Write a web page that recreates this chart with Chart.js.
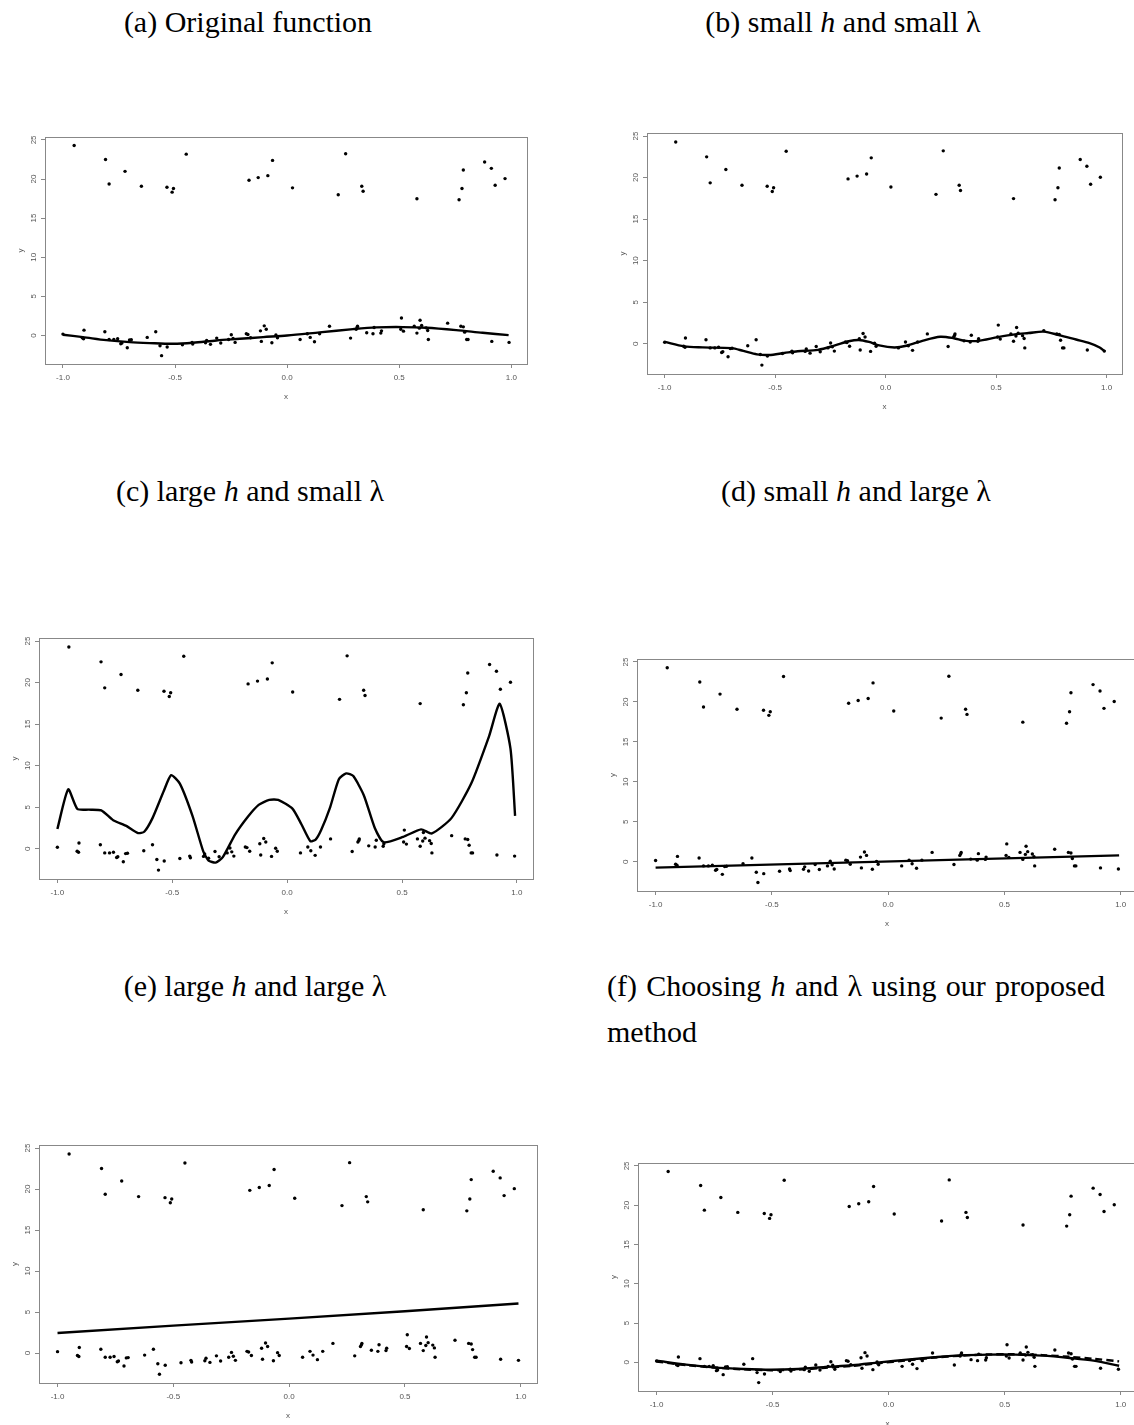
<!DOCTYPE html>
<html>
<head>
<meta charset="utf-8">
<script src="https://cdn.jsdelivr.net/npm/chart.js@4.4.0/dist/chart.umd.min.js"></script>
<style>
  html, body { margin: 0; padding: 0; background: #fff; }
  body { width: 1134px; height: 1425px; position: relative; overflow: hidden; }
  .cap { position: absolute; width: 400px; text-align: center; font-family: "Liberation Serif", "Times New Roman", serif; font-size: 30px; line-height: 36px; color: #000; white-space: nowrap; }
  .cap i { font-style: italic; }
  .cap.wrap { white-space: normal; width: 498px; line-height: 46px; text-align: justify; text-align-last: left; }
  canvas { position: absolute; }
</style>
</head>
<body>
<div class="cap" style="left:48px;top:4px">(a) Original function</div>
<div class="cap" style="left:643px;top:4px">(b) small <i>h</i> and small λ</div>
<div class="cap" style="left:50px;top:473px">(c) large <i>h</i> and small λ</div>
<div class="cap" style="left:656px;top:473px">(d) small <i>h</i> and large λ</div>
<div class="cap" style="left:55px;top:968px">(e) large <i>h</i> and large λ</div>
<div class="cap wrap" style="left:607px;top:963px">(f) Choosing <i>h</i> and λ using our proposed method</div>

<script>
// observed points (same sample in every panel)
const obsX = [
  -0.950, -0.810, -0.794, -0.723, -0.650, -0.536, -0.513, -0.507, -0.450, -0.170,
  -0.129, -0.086, -0.065, 0.024, 0.228, 0.261, 0.333, 0.339, 0.579, 0.767,
  0.780, 0.786, 0.881, 0.911, 0.928, 0.972,
  -1.000, -0.906, -0.914, -0.908, -0.813, -0.794, -0.773, -0.756, -0.742, -0.737,
  -0.713, -0.703, -0.695, -0.624, -0.586, -0.567, -0.560, -0.535, -0.467, -0.424,
  -0.421, -0.364, -0.359, -0.342, -0.314, -0.296, -0.261, -0.249, -0.241, -0.232,
  -0.182, -0.175, -0.163, -0.119, -0.115, -0.102, -0.093, -0.068, -0.050, -0.043,
  0.058, 0.090, 0.103, 0.122, 0.145, 0.189, 0.283, 0.308, 0.312, 0.314,
  0.355, 0.383, 0.388, 0.418, 0.421, 0.507, 0.510, 0.519, 0.567, 0.579,
  0.590, 0.593, 0.600, 0.620, 0.627, 0.630, 0.716, 0.775, 0.786, 0.792,
  0.801, 0.807, 0.913, 0.990
];
const obsY = [
  24.28, 22.50, 19.37, 20.98, 19.08, 18.95, 18.32, 18.78, 23.18, 19.84,
  20.18, 20.43, 22.38, 18.87, 17.98, 23.22, 19.08, 18.44, 17.47, 17.34,
  18.78, 21.15, 22.17, 21.36, 19.20, 20.05,
  0.17, 0.68, -0.30, -0.42, 0.47, -0.51, -0.51, -0.42, -1.06, -0.97,
  -1.57, -0.59, -0.55, -0.25, 0.47, -1.31, -2.58, -1.48, -1.18, -0.89,
  -1.10, -0.93, -0.63, -1.14, -0.34, -0.97, -0.51, 0.08, -0.38, -0.89,
  0.21, 0.13, -0.30, 0.59, -0.76, 1.23, 0.80, -0.93, 0.05, -0.30,
  -0.51, 0.21, -0.25, -0.80, 0.21, 1.18, -0.34, 0.80, 1.00, 1.18,
  0.34, 0.21, 1.02, 0.30, 0.59, 0.80, 2.24, 0.55, 1.18, 0.30,
  0.93, 1.95, 1.27, 0.97, 0.63, -0.51, 1.57, 1.18, 1.10, 0.42,
  -0.51, -0.51, -0.76, -0.89
];

// (a) original function
const truthX = [-1, -0.911, -0.807, -0.702, -0.613, -0.509, -0.42, -0.315, -0.211, -0.107, 0, 0.145, 0.294, 0.398, 0.516, 0.62, 0.754, 0.872, 0.988];
const truthY = [0.09, -0.21, -0.6, -0.86, -0.98, -1.07, -0.94, -0.64, -0.43, -0.21, 0, 0.4, 0.81, 1.03, 1.07, 0.98, 0.68, 0.34, 0.04];

// (b) small h, small lambda
const bX = [-1, -0.912, -0.828, -0.697, -0.644, -0.582, -0.528, -0.459, -0.398, -0.306, -0.229, -0.167, -0.121, -0.075, -0.029, 0.040, 0.094, 0.170, 0.247, 0.309, 0.355, 0.416, 0.508, 0.585, 0.647, 0.716, 0.785, 0.862, 0.923, 0.969, 0.992];
const bY = [0.21, -0.33, -0.45, -0.54, -0.87, -1.28, -1.36, -1.12, -0.91, -0.74, -0.21, 0.29, 0.45, 0.21, -0.21, -0.45, -0.25, 0.37, 0.83, 0.66, 0.37, 0.33, 0.79, 1.12, 1.28, 1.45, 1.03, 0.50, 0.08, -0.45, -0.95];

// (c) large h, small lambda
const cX = [-1, -0.953, -0.913, -0.863, -0.809, -0.757, -0.700, -0.649, -0.622, -0.586, -0.537, -0.505, -0.467, -0.412, -0.365, -0.342, -0.311, -0.280, -0.226, -0.171, -0.124, -0.078, -0.039, 0.023, 0.062, 0.101, 0.124, 0.148, 0.187, 0.225, 0.257, 0.288, 0.334, 0.381, 0.420, 0.505, 0.583, 0.630, 0.715, 0.801, 0.879, 0.925, 0.972, 0.992];
const cY = [2.37, 7.15, 4.78, 4.70, 4.62, 3.43, 2.74, 1.88, 2.04, 3.68, 6.94, 8.86, 7.84, 3.96, -0.33, -1.43, -1.67, -1.02, 1.72, 3.84, 5.27, 5.88, 5.88, 4.82, 2.94, 0.90, 1.10, 2.25, 4.98, 8.37, 9.07, 8.74, 6.41, 2.53, 0.78, 1.43, 2.33, 1.84, 3.68, 7.84, 13.56, 17.44, 12.05, 3.96];

// (d) small h, large lambda
const dX = [-1, 0.993];
const dY = [-0.72, 0.80];

// (e) large h, large lambda
const eX = [-1, -0.5, 0, 0.5, 0.99];
const eY = [2.45, 3.35, 4.2, 5.1, 6.05];

// (f) proposed choice (solid) and true function (dashed)
const fX = [-1, -0.873, -0.756, -0.624, -0.507, -0.390, -0.273, -0.156, -0.039, 0.078, 0.195, 0.312, 0.429, 0.546, 0.663, 0.780, 0.883, 0.993];
const fY = [0.21, -0.30, -0.64, -0.85, -0.94, -0.85, -0.60, -0.38, 0, 0.34, 0.64, 0.89, 0.98, 0.98, 0.85, 0.55, 0.21, -0.43];
const fDashY = [0.10, -0.35, -0.65, -0.90, -1.00, -0.92, -0.70, -0.45, -0.10, 0.25, 0.60, 0.85, 1.00, 1.03, 0.92, 0.70, 0.45, 0.12];

const xTicks = [-1, -0.5, 0, 0.5, 1];
const yTicks = [0, 5, 10, 15, 20, 25];

const X_MIN = -1.08, X_MAX = 1.07, Y_MIN = -3.65, Y_MAX = 25.37;
const AXIS_W = 45, AXIS_H = 45, PAD = 8;
const tickFont = { family: "'Liberation Sans', Arial, sans-serif", size: 8 };
const GREY = "#555";

const boxPlugin = {
  id: "box",
  afterDraw(chart) {
    const a = chart.chartArea;
    const ctx = chart.ctx;
    ctx.save();
    ctx.strokeStyle = "#888";
    ctx.lineWidth = 1;
    ctx.strokeRect(Math.round(a.left) + 0.5, Math.round(a.top) + 0.5, Math.round(a.right - a.left), Math.round(a.bottom - a.top));
    ctx.restore();
  }
};

function pts(xs, ys) {
  return xs.map((x, i) => ({ x, y: ys[i] }));
}

function makePanel(box, curves) {
  const c = document.createElement("canvas");
  c.width = box.R - box.L + AXIS_W + PAD;
  c.height = box.B - box.T + AXIS_H + PAD;
  c.style.left = (box.L - AXIS_W) + "px";
  c.style.top = (box.T - PAD) + "px";
  document.body.appendChild(c);

  const datasets = [{
    data: pts(obsX, obsY),
    showLine: false,
    pointRadius: 1.7,
    pointBackgroundColor: "#000",
    pointBorderWidth: 0
  }];
  curves.forEach(cv => datasets.push({
    data: pts(cv.x, cv.y),
    showLine: true,
    borderColor: "#000",
    borderWidth: 2.4,
    borderDash: cv.dash || [],
    pointRadius: 0,
    tension: cv.tension ?? 0.3
  }));

  new Chart(c.getContext("2d"), {
    type: "scatter",
    data: { datasets },
    options: {
      responsive: false,
      animation: false,
      events: [],
      layout: { padding: { left: 0, top: PAD, right: PAD, bottom: 0 } },
      plugins: { legend: { display: false }, tooltip: { enabled: false } },
      scales: {
        x: {
          type: "linear", min: X_MIN, max: X_MAX,
          afterBuildTicks: s => { s.ticks = xTicks.map(v => ({ value: v })); },
          afterFit: s => { s.height = AXIS_H; s.paddingLeft = 0; s.paddingRight = 0; },
          ticks: { callback: v => v.toFixed(1), font: tickFont, color: GREY, padding: 5, maxRotation: 0, minRotation: 0, autoSkip: false },
          grid: { drawOnChartArea: false, drawTicks: true, tickLength: 4, color: "#888" },
          border: { display: false },
          title: { display: true, text: "x", font: tickFont, color: GREY, padding: { top: 0, bottom: 7 } }
        },
        y: {
          type: "linear", min: Y_MIN, max: Y_MAX,
          afterBuildTicks: s => { s.ticks = yTicks.map(v => ({ value: v })); },
          afterFit: s => { s.width = AXIS_W; s.paddingTop = 0; s.paddingBottom = 0; },
          ticks: { callback: v => String(v), font: tickFont, color: GREY, padding: 3, minRotation: 90, maxRotation: 90, crossAlign: "center", autoSkip: false },
          grid: { drawOnChartArea: false, drawTicks: true, tickLength: 4, color: "#888" },
          border: { display: false },
          title: { display: true, text: "y", font: tickFont, color: GREY, padding: { top: 16, bottom: 0 } }
        }
      }
    },
    plugins: [boxPlugin]
  });
}

makePanel({ L: 45, T: 137, R: 527, B: 364 }, [{ x: truthX, y: truthY }]);
makePanel({ L: 647, T: 133, R: 1122, B: 374 }, [{ x: bX, y: bY }]);
makePanel({ L: 39, T: 638, R: 533, B: 879 }, [{ x: cX, y: cY, tension: 0.2 }]);
makePanel({ L: 637, T: 659, R: 1137, B: 891 }, [{ x: dX, y: dY, tension: 0 }]);
makePanel({ L: 39, T: 1145, R: 537, B: 1383 }, [{ x: eX, y: eY, tension: 0 }]);
makePanel({ L: 638, T: 1163, R: 1137, B: 1391 }, [{ x: fX, y: fY }, { x: fX, y: fDashY, dash: [7, 4] }]);
</script>
</body>
</html>
